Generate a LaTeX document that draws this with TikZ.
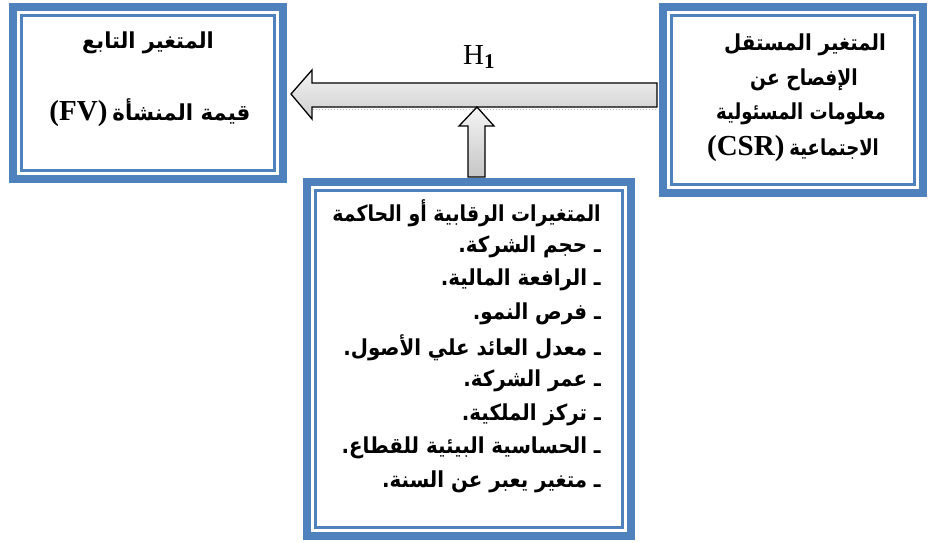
\documentclass[tikz,border=0pt]{standalone}
\usepackage{fontspec}
\setmainfont{Liberation Serif}
\newfontfamily\arabicfont[Script=Arabic]{DejaVu Sans}
\TeXXeTstate=1
\definecolor{accent}{HTML}{4F81BD}
\begin{document}
\begin{tikzpicture}[x=1pt,y=-1pt,
  vbox/.style={draw=accent, line width=8pt, rectangle, outer sep=0pt, inner sep=0pt},
  thinrule/.style={draw=accent, line width=2.6pt},
  ar/.style={font=\arabicfont\bfseries\fontsize{22}{24}\selectfont, inner sep=0pt},
  blockarrow/.style={draw=black, line width=1.3pt, line join=miter},
]
\useasboundingbox (0,0) rectangle (928,542);
% boxes
\node[vbox, minimum width=270pt, minimum height=172pt] (L) at (148,93) {};
\node[vbox, minimum width=260pt, minimum height=186pt] (R) at (793,100) {};
\node[vbox, minimum width=324pt, minimum height=354pt] (B) at (469,359) {};
\foreach \n in {L,R,B}{
  \draw[thinrule] ([shift={(8.5,8.5)}]\n.north west) rectangle ([shift={(-8.5,-8.5)}]\n.south east);
}
% arrows
\draw[blockarrow, top color=gray!10, bottom color=gray!38]
  (291,94) -- (312,70) -- (312,83) -- (657,83) -- (657,107) -- (312,107) -- (312,119) -- cycle;
\draw[gray!55, dotted, line width=1pt] (313,109) -- (656,109);
\draw[blockarrow, top color=gray!8, bottom color=gray!45]
  (477,107) -- (494,126) -- (485,126) -- (485,177) -- (468,177) -- (468,126) -- (459,126) -- cycle;
\node[anchor=base west, inner sep=0pt, font=\rmfamily\fontsize{29}{29}\selectfont] (H) at (463,64)
  {H\raisebox{-4pt}{\fontsize{21}{21}\selectfont\bfseries 1}};
% left box text
\node[ar] (L1) at (148,43) {\scalebox{0.95}[1]{\beginR المتغير التابع\endR}};
\node[ar] (L2) at (150,113) {{\rmfamily\bfseries\fontsize{29}{29}\selectfont (FV)}\hspace{5pt}\scalebox{0.97}[1]{\beginR قيمة المنشأة\endR}};
% right box text
\node[ar] (R1) at (805,45) {\scalebox{0.9}[1]{\beginR المتغير المستقل\endR}};
\node[ar] (R2) at (804,80) {\scalebox{0.85}[1]{\beginR الإفصاح عن\endR}};
\node[ar] (R3) at (801,114) {\scalebox{0.82}[1]{\beginR معلومات المسئولية\endR}};
\node[ar] (R4) at (793,149) {{\rmfamily\bfseries\fontsize{29}{29}\selectfont (CSR)}\hspace{5pt}\scalebox{0.82}[1]{\beginR الاجتماعية\endR}};
% bottom box text
\node[ar, anchor=east] (B0) at (601,213) {\scalebox{0.86}[1]{\beginR المتغيرات الرقابية أو الحاكمة\endR}};
\node[ar, anchor=east] (B1) at (601,246.6) {\scalebox{0.9}[1]{\beginR ـ حجم الشركة.\endR}};
\node[ar, anchor=east] (B2) at (601,280.2) {\scalebox{0.9}[1]{\beginR ـ الرافعة المالية.\endR}};
\node[ar, anchor=east] (B3) at (601,313.8) {\scalebox{0.9}[1]{\beginR ـ فرص النمو.\endR}};
\node[ar, anchor=east] (B4) at (601,347.4) {\scalebox{0.9}[1]{\beginR ـ معدل العائد علي الأصول.\endR}};
\node[ar, anchor=east] (B5) at (601,381) {\scalebox{0.9}[1]{\beginR ـ عمر الشركة.\endR}};
\node[ar, anchor=east] (B6) at (601,414.6) {\scalebox{0.9}[1]{\beginR ـ تركز الملكية.\endR}};
\node[ar, anchor=east] (B7) at (601,448.2) {\scalebox{0.9}[1]{\beginR ـ الحساسية البيئية للقطاع.\endR}};
\node[ar, anchor=east] (B8) at (601,481.8) {\scalebox{0.9}[1]{\beginR ـ متغير يعبر عن السنة.\endR}};
\end{tikzpicture}
\end{document}
